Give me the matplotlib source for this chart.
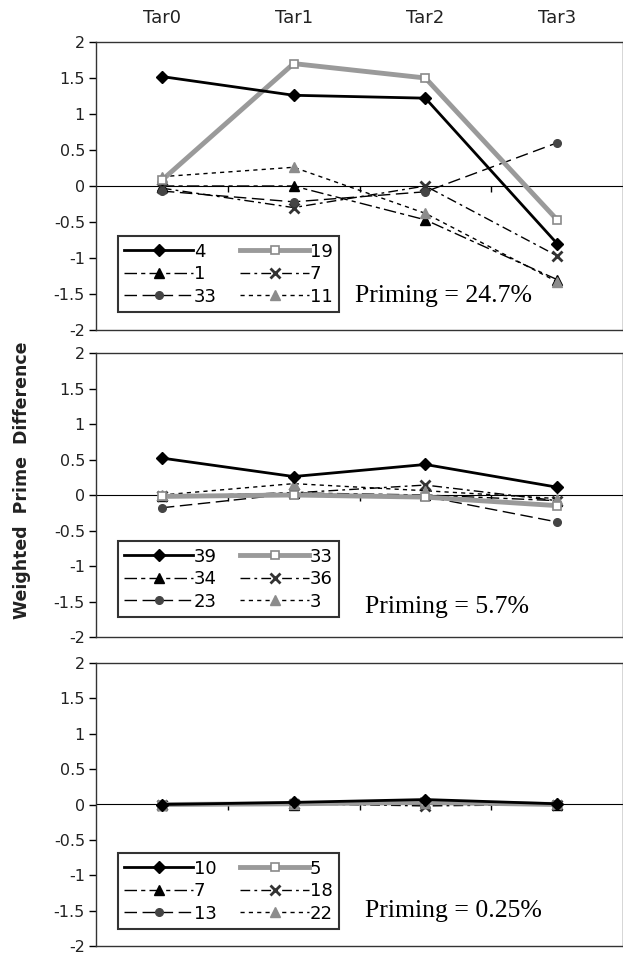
import numpy as np
import matplotlib.pyplot as plt

targets = ["Tar0", "Tar1", "Tar2", "Tar3"]

# panel 1 (priming 24.7%)
p1_names = ["4", "19", "1", "7", "33", "11"]
p1_vals = [
    [1.52, 1.26, 1.22, -0.80],
    [0.08, 1.70, 1.50, -0.47],
    [0.00, 0.00, -0.47, -1.30],
    [-0.03, -0.30, 0.00, -0.97],
    [-0.07, -0.22, -0.08, 0.60],
    [0.13, 0.26, -0.38, -1.33],
]

# panel 2 (priming 5.7%)
p2_names = ["39", "33", "34", "36", "23", "3"]
p2_vals = [
    [0.52, 0.26, 0.43, 0.11],
    [-0.02, 0.00, -0.03, -0.15],
    [-0.02, 0.03, 0.00, -0.08],
    [-0.02, 0.03, 0.14, -0.08],
    [-0.18, 0.02, -0.02, -0.38],
    [0.00, 0.16, 0.06, -0.05],
]

# panel 3 (priming 0.25%)
p3_names = ["10", "5", "7", "18", "13", "22"]
p3_vals = [
    [0.00, 0.03, 0.07, 0.01],
    [0.00, 0.01, 0.03, 0.00],
    [0.00, 0.00, 0.02, 0.00],
    [0.00, 0.01, -0.02, 0.00],
    [0.00, 0.02, 0.05, 0.01],
    [0.00, 0.01, 0.02, 0.02],
]

priming = ["Priming = 24.7%", "Priming = 5.7%", "Priming = 0.25%"]

# one style per series slot
styles = [
    dict(color="black", lw=2.0, ls="-", marker="D", ms=6.5, mfc="black", mec="black", zorder=6),
    dict(color="#9a9a9a", lw=3.5, ls="-", marker="s", ms=5.5, mfc="white", mec="#8a8a8a", mew=1.2, zorder=5),
    dict(color="black", lw=1.0, ls=(0, (9, 3, 3, 3)), marker="^", ms=6.5, mfc="black", mec="black", zorder=4),
    dict(color="black", lw=1.0, ls=(0, (7, 3, 2, 3)), marker="x", ms=6.5, mec="#333333", mew=2, zorder=4),
    dict(color="black", lw=1.0, ls=(0, (9, 4)), marker="o", ms=5.5, mfc="#444444", mec="#444444", zorder=4),
    dict(color="black", lw=1.0, ls=(0, (3, 3)), marker="^", ms=6.5, mfc="#8c8c8c", mec="#8c8c8c", zorder=4),
]
legend_order = [0, 2, 4, 1, 3, 5]

fig = plt.figure(figsize=(6.23, 9.55), dpi=100)
left = 96 / 623
width = 1 - left
boxes = [(42, 330), (353, 637), (663, 946)]
text_pos = [(0.491, 0.097), (0.510, 0.085), (0.510, 0.102)]
leg_pos = [(0.042, 0.0625), (0.042, 0.07), (0.042, 0.06)]

x = np.arange(len(targets))
panels = [(p1_names, p1_vals), (p2_names, p2_vals), (p3_names, p3_vals)]

for i, (names, vals) in enumerate(panels):
    top, bot = boxes[i]
    ax = fig.add_axes([left, (955 - bot) / 955, width, (bot - top) / 955])
    handles = []
    for j, v in enumerate(vals):
        h, = ax.plot(x, v, label=names[j], **styles[j])
        handles.append(h)
    ax.set_xlim(-0.5, 3.5)
    ax.set_ylim(-2, 2)
    ax.set_yticks(np.arange(-2, 2.01, 0.5))
    ax.set_yticklabels([f"{t:g}" for t in np.arange(-2, 2.01, 0.5)])
    ax.tick_params(axis="y", direction="out", length=5, width=1, labelsize=11.5,
                   labelcolor="#222222", pad=3)
    for s in ax.spines.values():
        s.set_linewidth(1.0)
        s.set_color("#333333")
    if i == 0:
        ax.xaxis.tick_top()
        ax.set_xticks(x)
        ax.set_xticklabels(targets)
        ax.tick_params(axis="x", length=0, pad=11, labelsize=13, labelcolor="#222222")
    else:
        ax.set_xticks([])
    # category axis crossing at zero
    sec = ax.secondary_xaxis(0.5)
    sec.set_xticks([0.5, 1.5, 2.5])
    sec.set_xticklabels([])
    sec.tick_params(direction="in", length=4, width=1)
    sec.spines["bottom"].set_linewidth(1.2)

    leg = ax.legend([handles[k] for k in legend_order], [names[k] for k in legend_order],
                    ncol=2, loc="lower left", bbox_to_anchor=leg_pos[i],
                    fontsize=13, frameon=True, fancybox=False, edgecolor="black",
                    handlelength=3.8, handletextpad=0.05, columnspacing=1.3,
                    labelspacing=0.25, borderpad=0.35, borderaxespad=0)
    leg.get_frame().set_linewidth(1.5)
    ax.text(text_pos[i][0], text_pos[i][1], priming[i], transform=ax.transAxes,
            family="Liberation Serif", fontsize=18.5, va="baseline", ha="left")

fig.text(22 / 623, (955 - 480) / 955, "Weighted  Prime  Difference", rotation=90,
         ha="center", va="center", fontsize=12.5, fontweight="bold", color="#222222")

fig.savefig("out.png", dpi=100)
